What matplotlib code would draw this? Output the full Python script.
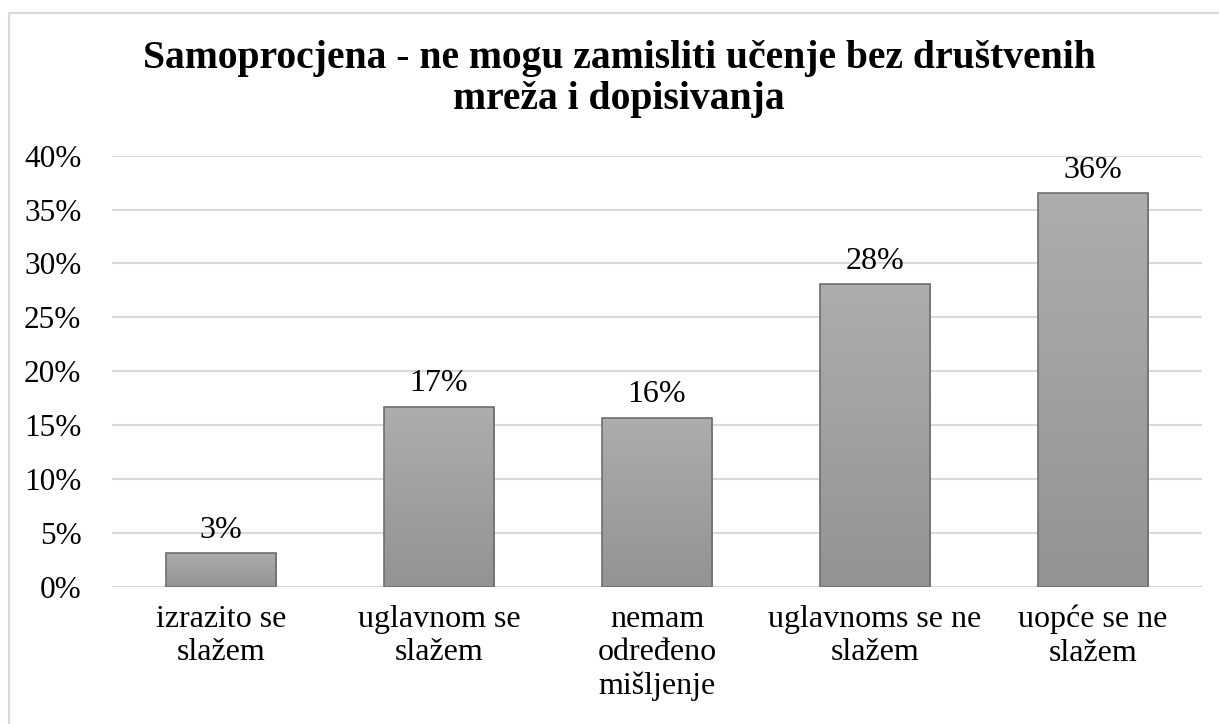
import matplotlib
matplotlib.use("Agg")
import matplotlib.pyplot as plt
import numpy as np
from matplotlib.patches import Rectangle
from matplotlib.colors import LinearSegmentedColormap

categories = ["izrazito se\nslažem", "uglavnom se\nslažem", "nemam\nodređeno\nmišljenje",
              "uglavnoms se ne\nslažem", "uopće se ne\nslažem"]
values = [0.031, 0.167, 0.157, 0.281, 0.365]
value_labels = ["3%", "17%", "16%", "28%", "36%"]
yticks = [0, 0.05, 0.10, 0.15, 0.20, 0.25, 0.30, 0.35, 0.40]
ytick_labels = ["0%", "5%", "10%", "15%", "20%", "25%", "30%", "35%", "40%"]
title = "Samoprocjena - ne mogu zamisliti učenje bez društvenih\nmreža i dopisivanja"

plt.rcParams['font.family'] = ['Liberation Serif', 'DejaVu Serif']

fig = plt.figure(figsize=(12.19, 7.24), dpi=100)
ax = fig.add_axes([112/1219, 1-586.7/724, (1202-112)/1219, (586.7-155.7)/724])

# outer border
fig.patches.append(Rectangle((9/1219, -0.05), 1.2, 1-13/724+0.05, transform=fig.transFigure,
                             fill=False, edgecolor='#d9d9d9', linewidth=1.5))

x = np.arange(len(categories))
bars = ax.bar(x, values, width=0.505, color='none', edgecolor='#6e6e6e', linewidth=1.2, zorder=3)

cmap = LinearSegmentedColormap.from_list('g', ['#939393', '#adadad'])
grad = np.linspace(0, 1, 256).reshape(-1, 1)
for i, b in enumerate(bars):
    xb, w, h = b.get_x(), b.get_width(), b.get_height()
    im = ax.imshow(grad, extent=[xb, xb + w, 0, h], origin='lower', cmap=cmap,
                   aspect='auto', zorder=2)
    im.set_clip_path(b)
    ax.annotate(value_labels[i], (xb + w/2, h), xytext=(0, 6),
                textcoords='offset points', ha='center', va='bottom', fontsize=23, color='#000000')

ax.set_xlim(-0.5, len(categories) - 0.5)
ax.set_ylim(0, 0.40)
ax.set_yticks(yticks)
ax.set_yticklabels(ytick_labels, fontsize=22.5)
ax.set_xticks(x)
ax.set_xticklabels(categories, fontsize=23, linespacing=1.2)
ax.tick_params(axis='both', length=0)
ax.tick_params(axis='y', pad=22)
ax.tick_params(axis='x', pad=13)
ax.grid(axis='y', color='#d9d9d9', linewidth=1.5, zorder=0)
ax.set_axisbelow(True)
for s in ax.spines.values():
    s.set_visible(False)

fig.text(619/1219, 1-40/724, title, ha='center', va='top', fontsize=28.5, fontweight='bold',
         linespacing=1.13)

fig.savefig("out.png", dpi=100)
